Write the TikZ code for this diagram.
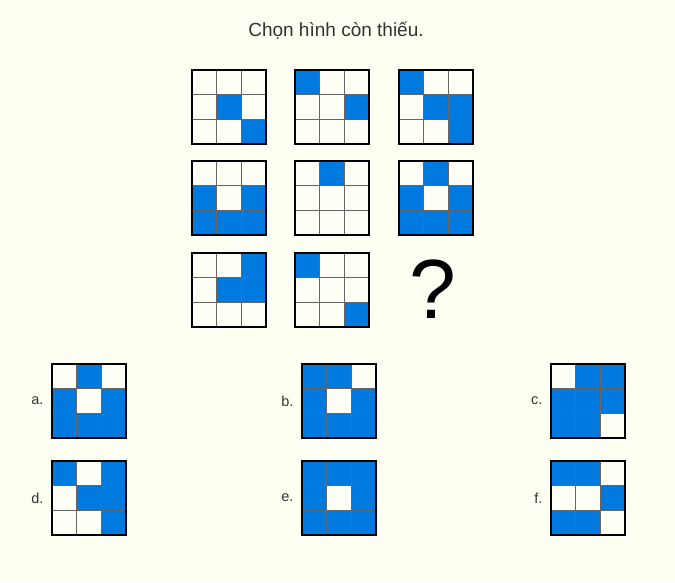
\documentclass[tikz,border=0pt]{standalone}
\usepackage{fontspec}
\setmainfont{Liberation Sans}
\definecolor{bgc}{HTML}{FFFEF2}
\definecolor{cellc}{HTML}{FFFEF4}
\definecolor{blu}{HTML}{007ADF}
\definecolor{txt}{HTML}{333333}
\newcommand\qgrid[4]{%
  \begin{scope}[shift={(#2,-#3)}]
    \fill[cellc] (0,0) rectangle (74,-74);
    \foreach \c/\r in {#4} \fill[blu] ({\c*74/3},{-\r*74/3}) rectangle ++(74/3,-74/3);
    \foreach \k in {1,2} {
      \draw[innerln] ({\k*74/3},0) -- ({\k*74/3},-74);
      \draw[innerln] (0,{-\k*74/3}) -- (74,{-\k*74/3});
    }
    \node[gridframe] (#1) at (37,-37) {};
  \end{scope}}
\tikzset{
  innerln/.style={draw=black!60, line width=0.9pt},
  gridframe/.style={draw=black, line width=2pt, minimum size=74pt, inner sep=0pt},
  lbl/.style={text=txt, font=\fontsize{14.5}{16}\selectfont, anchor=east},
}
\begin{document}
\begin{tikzpicture}[x=1pt,y=1pt]
\useasboundingbox (0,0) rectangle (675,-582);
\fill[bgc] (0,0) rectangle (675,-582);
\node[text=txt, font=\fontsize{19}{21}\selectfont] (title) at (336,-31) {Chọn hình còn thiếu.};
% puzzle grids
\qgrid{g1}{192}{70}{1/1,2/2}
\qgrid{g2}{295}{70}{0/0,2/1}
\qgrid{g3}{399}{70}{0/0,1/1,2/1,2/2}
\qgrid{g4}{192}{161}{0/1,2/1,0/2,1/2,2/2}
\qgrid{g5}{295}{161}{1/0}
\qgrid{g6}{399}{161}{1/0,0/1,2/1,0/2,1/2,2/2}
\qgrid{g7}{192}{253}{2/0,1/1,2/1}
\qgrid{g8}{295}{253}{0/0,2/2}
\node[font=\fontsize{84}{84}\selectfont] (q) at (433,-289) {?};
% answers
\qgrid{ga}{52}{364}{1/0,0/1,2/1,0/2,1/2,2/2}
\qgrid{gb}{302}{364}{0/0,1/0,0/1,2/1,0/2,1/2,2/2}
\qgrid{gc}{551}{364}{1/0,2/0,0/1,1/1,2/1,0/2,1/2}
\qgrid{gd}{52}{461}{0/0,2/0,1/1,2/1,2/2}
\qgrid{ge}{302}{461}{0/0,1/0,2/0,0/1,2/1,0/2,1/2,2/2}
\qgrid{gf}{551}{461}{0/0,1/0,2/1,0/2,1/2}
\node[lbl] (la) at (ga.west) [xshift=-4pt] {a.};
\node[lbl] (lb) at (gb.west) [xshift=-4pt] {b.};
\node[lbl] (lc) at (gc.west) [xshift=-4pt] {c.};
\node[lbl] (ld) at (gd.west) [xshift=-4pt] {d.};
\node[lbl] (le) at (ge.west) [xshift=-4pt] {e.};
\node[lbl] (lf) at (gf.west) [xshift=-4pt] {f.};
\end{tikzpicture}
\end{document}
